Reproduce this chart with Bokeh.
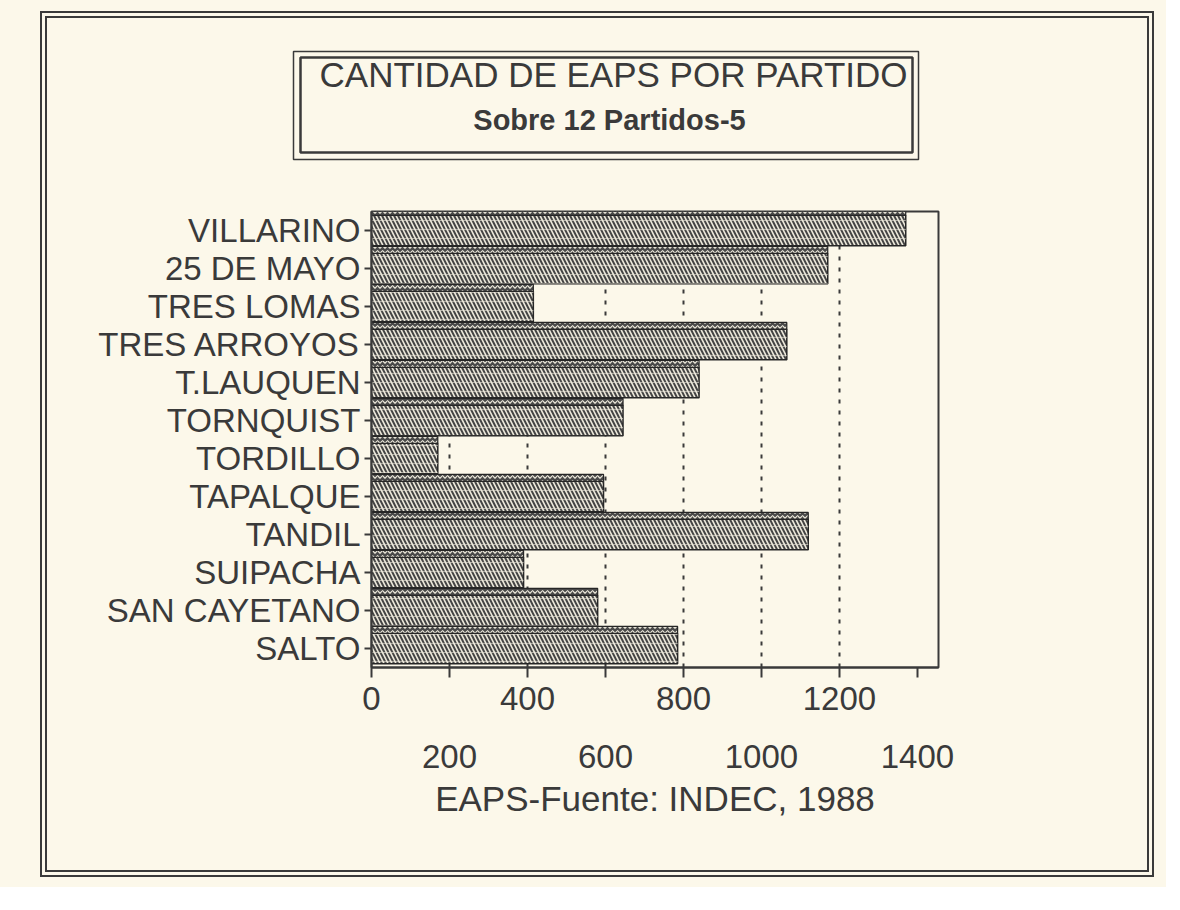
from bokeh.plotting import figure
from bokeh.models import (ColumnDataSource, FactorRange, Range1d, FixedTicker,
                          LinearAxis, BoxAnnotation, Label)
from bokeh.layouts import column, row
from bokeh.transform import dodge
from bokeh.embed import file_html
from bokeh.resources import INLINE

# ---------------- data ----------------
partidos = ["VILLARINO", "25 DE MAYO", "TRES LOMAS", "TRES ARROYOS", "T.LAUQUEN",
            "TORNQUIST", "TORDILLO", "TAPALQUE", "TANDIL", "SUIPACHA",
            "SAN CAYETANO", "SALTO"]
eaps = [1370, 1170, 415, 1065, 840, 645, 170, 595, 1120, 390, 580, 785]
ticks_row1 = [0, 400, 800, 1200]
ticks_row2 = [200, 600, 1000, 1400]
grid_ticks = [200, 400, 600, 800, 1000, 1200]
title_text = "CANTIDAD DE EAPS POR PARTIDO"
subtitle_text = "Sobre 12 Partidos-5"
xlabel_text = "EAPS-Fuente: INDEC, 1988"

PAPER = "#fcf8ea"
INK = "#3a3a3a"
FONT = "Liberation Sans"

LEFT, FW, RIGHT = 324, 567, 209

# ---------------- title panel (frame = whole panel) ----------------
tf = figure(frame_width=1100, frame_height=161, min_border=0,
            x_range=Range1d(0, 1100), y_range=Range1d(161, 0),
            x_axis_type=None, y_axis_type=None,
            toolbar_location=None, output_backend="svg")
tf.grid.visible = False
tf.outline_line_color = None
tf.background_fill_color = PAPER
tf.border_fill_color = PAPER
tf.add_layout(BoxAnnotation(left=246, right=871, top=33, bottom=141,
                            fill_alpha=0, line_color=INK, line_alpha=1,
                            line_width=1.5))
tf.add_layout(BoxAnnotation(left=253, right=865, top=39, bottom=134,
                            fill_alpha=0, line_color=INK, line_alpha=1,
                            line_width=2.5))
tf.add_layout(Label(x=566, y=56, text=title_text, text_align="center",
                    text_baseline="middle", text_font=FONT, text_font_size="35px",
                    text_color=INK))
tf.add_layout(Label(x=562, y=101, text=subtitle_text, text_align="center",
                    text_baseline="middle", text_font=FONT, text_font_size="29px",
                    text_font_style="bold", text_color=INK))

# ---------------- chart ----------------
src = ColumnDataSource(dict(cat=partidos, val=eaps))
p = figure(y_range=FactorRange(factors=partidos[::-1]), x_range=Range1d(0, 1454),
           frame_width=FW, frame_height=456, min_border_left=LEFT,
           min_border_right=RIGHT, min_border_top=32, min_border_bottom=203,
           toolbar_location=None, output_backend="svg")
p.background_fill_color = PAPER
p.border_fill_color = PAPER
p.outline_line_color = INK
p.outline_line_width = 2

# front face
p.hbar(y="cat", right="val", height=0.8, source=src, fill_color="#444444",
       line_color="#262626", line_width=1.5, hatch_pattern="left_diagonal_line",
       hatch_color="#eeeadc", hatch_scale=8, hatch_weight=1.6)
p.hbar(y="cat", right="val", height=0.8, source=src, fill_alpha=0,
       line_color=None, hatch_pattern="horizontal_line", hatch_color="#eeeadc",
       hatch_scale=9, hatch_weight=1.2, hatch_alpha=0.6)
# top (3D) face
p.hbar(y=dodge("cat", 0.49, range=p.y_range), right="val", height=0.18,
       source=src, fill_color="#4a4a4a", line_color="#262626", line_width=1.2,
       hatch_pattern="horizontal_wave", hatch_color="#eeeadc", hatch_scale=5,
       hatch_weight=1.2)

# grid
p.ygrid.visible = False
p.xgrid.ticker = FixedTicker(ticks=grid_ticks)
p.xgrid.grid_line_color = "#3a3a3a"
p.xgrid.grid_line_dash = "4 7"
p.xgrid.grid_line_width = 2

# y axis
p.yaxis.axis_line_color = INK
p.yaxis.axis_line_width = 2
p.yaxis.major_tick_line_color = INK
p.yaxis.major_tick_line_width = 2
p.yaxis.major_tick_out = 7
p.yaxis.major_tick_in = 0
p.yaxis.major_label_standoff = 4
p.yaxis.major_label_text_font = FONT
p.yaxis.major_label_text_font_size = "33px"
p.yaxis.major_label_text_color = INK

# x axis row 1 (all ticks, labels on every other)
xa = p.xaxis[0]
xa.ticker = FixedTicker(ticks=sorted(ticks_row1 + ticks_row2))
xa.major_label_overrides = {t: "" for t in ticks_row2}
xa.axis_line_color = INK
xa.axis_line_width = 2
xa.major_tick_line_color = INK
xa.major_tick_line_width = 2
xa.major_tick_out = 10
xa.major_tick_in = 0
xa.minor_tick_line_color = None
xa.major_label_standoff = 9
xa.major_label_text_font = FONT
xa.major_label_text_font_size = "33px"
xa.major_label_text_color = INK

# x axis row 2 (staggered labels) + axis title
xb = LinearAxis(ticker=FixedTicker(ticks=ticks_row2))
xb.axis_line_color = None
xb.major_tick_line_color = None
xb.minor_tick_line_color = None
xb.major_tick_out = 0
xb.major_label_standoff = 32
xb.major_label_text_font = FONT
xb.major_label_text_font_size = "33px"
xb.major_label_text_color = INK
xb.axis_label = xlabel_text
xb.axis_label_standoff = 8
xb.axis_label_text_font = FONT
xb.axis_label_text_font_size = "35px"
xb.axis_label_text_font_style = "normal"
xb.axis_label_text_color = INK
p.add_layout(xb, "below")

inner = column(row(tf), row(p), styles={"border": "7px double #3a3a3a",
                                        "background-color": PAPER})
page = column(inner, styles={"background-color": PAPER,
                             "padding": "11px 12px 10px 40px"})

open("out.html", "w").write(file_html(page, INLINE))
